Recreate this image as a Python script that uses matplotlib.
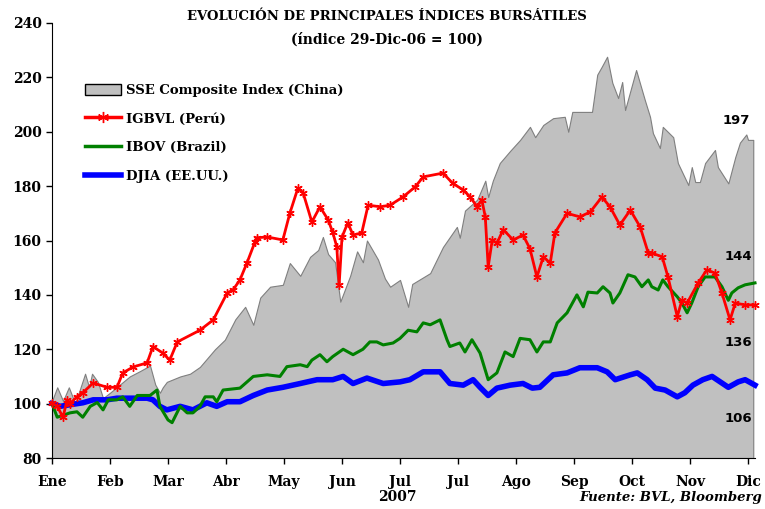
import matplotlib
matplotlib.use("Agg")
import matplotlib.pyplot as plt
from matplotlib.patches import Patch
from matplotlib.lines import Line2D

# ---------- data (indice 29-Dic-06 = 100), x in months since 1-Ene ----------
meses = ["Ene", "Feb", "Mar", "Abr", "May", "Jun", "Jul", "Jul", "Ago", "Sep", "Oct", "Nov", "Dic"]

sse_x = [0.00, 0.09, 0.19, 0.29, 0.40, 0.57, 0.64, 0.69, 0.79, 0.88, 1.00, 1.17, 1.34, 1.52, 1.69,
         1.78, 1.86, 1.91, 1.98, 2.21, 2.38, 2.55, 2.81, 2.98, 3.16, 3.33, 3.47, 3.59, 3.76, 3.98,
         4.10, 4.28, 4.45, 4.59, 4.67, 4.76, 4.88, 4.97, 5.14, 5.26, 5.36, 5.43, 5.62, 5.74, 5.83,
         6.00, 6.14, 6.21, 6.52, 6.74, 6.98, 7.03, 7.12, 7.33, 7.47, 7.52, 7.60, 7.72, 7.90, 8.07,
         8.24, 8.33, 8.47, 8.64, 8.84, 8.90, 8.97, 9.31, 9.40, 9.48, 9.57, 9.66, 9.76, 9.83, 9.88,
         10.07, 10.22, 10.31, 10.36, 10.48, 10.53, 10.71, 10.79, 10.97, 11.03, 11.09, 11.17, 11.26,
         11.43, 11.48, 11.66, 11.78, 11.86, 11.97, 12.00, 12.09]
sse = [101, 106, 101, 106, 100, 111, 106, 111, 108, 102, 104, 107, 110, 112, 114,
       107, 104, 106, 108, 110, 111, 113.5, 120, 123.5, 131, 135.6, 129, 139, 143, 143.7,
       151.7, 147, 154, 156.5, 161.3, 155, 152, 137.5, 147, 156, 152, 160, 153, 146, 143,
       145.5, 135.6, 144, 148, 157.6, 165, 161, 171, 175, 182, 176, 182, 188.5, 193, 197,
       201.8, 198, 202.5, 205, 205.5, 200, 207.3, 207.3, 221, 224, 227.6, 218, 212.4, 218.3, 208,
       222.7, 211.7, 205.5, 199.5, 194, 201.8, 198, 188.5, 180.4, 187, 181.5, 181.5, 188.5,
       193.3, 187, 181, 190.7, 196, 199, 197, 197]

igbvl_x = [0.00, 0.09, 0.19, 0.26, 0.31, 0.43, 0.53, 0.71, 0.95, 1.12, 1.22, 1.40, 1.64, 1.74, 1.91,
           2.03, 2.16, 2.55, 2.78, 3.02, 3.12, 3.24, 3.36, 3.50, 3.53, 3.71, 3.98, 4.10, 4.24, 4.33,
           4.48, 4.62, 4.76, 4.84, 4.91, 4.95, 5.00, 5.10, 5.19, 5.34, 5.45, 5.66, 5.83, 6.05, 6.26,
           6.40, 6.74, 6.91, 7.09, 7.21, 7.33, 7.41, 7.47, 7.52, 7.59, 7.67, 7.78, 7.95, 8.12, 8.24,
           8.36, 8.47, 8.59, 8.67, 8.88, 9.10, 9.28, 9.48, 9.62, 9.79, 9.97, 10.14, 10.28, 10.34,
           10.52, 10.62, 10.78, 10.86, 10.95, 11.14, 11.29, 11.43, 11.55, 11.69, 11.78, 11.95, 12.12]
igbvl = [100.3, 99, 95, 101.4, 100, 102.5, 104, 107.6, 106, 106, 111.3, 113.5, 115, 121, 118.6,
         116, 122.7, 127, 130.8, 140.7, 141.8, 145.5, 151.7, 159.5, 161, 161.3, 160.2, 170, 179.3, 177.5,
         166.8, 172.4, 167.6, 163, 157.7, 143.5, 161.3, 166.5, 162, 162.8, 173, 172.4, 173, 176, 179.7,
         183.4, 184.8, 181, 178.6, 176, 172.4, 175, 168.7, 150.3, 160.2, 159, 164, 160.2, 162, 157,
         146.6, 154, 151.7, 162.8, 170, 168.7, 170.5, 176, 172.4, 165.7, 171.2, 165, 155.4, 155.4,
         154, 146.6, 132, 138, 137, 144.4, 149.2, 148, 140.7, 130.8, 137, 136.3, 136.3]

ibov_x = [0.00, 0.09, 0.31, 0.43, 0.53, 0.66, 0.78, 0.88, 0.97, 1.12, 1.22, 1.34, 1.47, 1.69, 1.81,
          1.86, 2.00, 2.07, 2.21, 2.33, 2.43, 2.55, 2.64, 2.78, 2.84, 2.95, 3.24, 3.47, 3.71, 3.93,
          4.05, 4.28, 4.40, 4.48, 4.62, 4.74, 4.84, 5.02, 5.19, 5.36, 5.48, 5.60, 5.71, 5.88, 6.00,
          6.14, 6.29, 6.40, 6.52, 6.69, 6.81, 6.86, 7.03, 7.12, 7.24, 7.38, 7.52, 7.67, 7.81, 7.95,
          8.07, 8.24, 8.36, 8.47, 8.59, 8.71, 8.88, 9.05, 9.16, 9.24, 9.40, 9.50, 9.62, 9.67, 9.79,
          9.93, 10.05, 10.17, 10.28, 10.34, 10.45, 10.53, 10.62, 10.78, 10.86, 10.95, 11.03, 11.14,
          11.26, 11.43, 11.55, 11.66, 11.72, 11.83, 11.95, 12.12]
ibov = [100, 95, 96.6, 97, 95, 99, 100.4, 97.7, 101.4, 101.4, 102.5, 99, 103, 103, 105,
        99, 94, 93, 99, 96.6, 96.6, 99, 102.5, 102.5, 100.7, 105, 105.7, 110, 110.6, 110,
        113.6, 114.3, 113.6, 116, 118, 115.4, 117.3, 120, 118, 120, 122.7, 122.7, 121.6, 122.3, 124,
        127, 126.4, 129.7, 129, 130.8, 123.5, 121, 122.3, 119, 123.5, 118.6, 108.8, 111.3, 119, 117.3,
        124, 123.5, 119, 122.7, 122.7, 129.7, 133.4, 140, 135.6, 141, 140.7, 143, 140.7, 137, 140.7,
        147.4, 146.6, 143, 145.5, 143, 141.8, 145.5, 143, 139.3, 137, 133.4, 137, 143,
        146.6, 146.6, 143, 138, 140.7, 142.6, 143.7, 144.4]

djia_x = [0.00, 0.14, 0.31, 0.53, 0.71, 0.95, 1.12, 1.40, 1.64, 1.74, 1.86, 1.98, 2.21, 2.43, 2.67,
          2.84, 3.02, 3.24, 3.47, 3.71, 3.98, 4.28, 4.57, 4.84, 5.02, 5.19, 5.43, 5.71, 6.00, 6.17,
          6.40, 6.69, 6.86, 7.09, 7.26, 7.38, 7.52, 7.67, 7.90, 8.12, 8.28, 8.41, 8.64, 8.88, 9.10,
          9.40, 9.57, 9.71, 9.97, 10.09, 10.26, 10.40, 10.57, 10.78, 10.91, 11.05, 11.22, 11.38,
          11.52, 11.66, 11.83, 11.95, 12.12]
djia = [100, 99, 99.6, 100.3, 101.4, 101.4, 102, 102, 102, 101.4, 99, 97.7, 99, 97.7, 100.3,
        99, 100.7, 100.7, 103, 105, 106, 107.4, 108.8, 108.8, 110, 107.4, 109.4, 107.4, 108, 108.8,
        111.7, 111.7, 107.4, 106.8, 108.8, 106, 103, 105.7, 106.8, 107.4, 105.7, 106, 110.6, 111.3, 113.2,
        113.2, 111.7, 108.8, 110.6, 111.3, 108.8, 105.7, 105, 102.5, 104, 106.8, 108.8, 110,
        108, 106, 108, 108.8, 106.8]

# ---------- plot ----------
plt.rcParams["font.family"] = "DejaVu Serif"
plt.rcParams["font.weight"] = "bold"

fig = plt.figure(figsize=(7.65, 5.09), dpi=100)
ax = fig.add_axes([52 / 765, 51 / 509, 703 / 765, 435 / 509])

ax.fill_between(sse_x, 80, sse, facecolor="#c0c0c0", edgecolor="#7f7f7f", linewidth=0.8, zorder=1)
ax.plot(igbvl_x, igbvl, color="#ff0000", linewidth=2, marker=(6, 2, 0), markersize=6,
        markeredgewidth=1, zorder=4, clip_on=False)
ax.plot(ibov_x, ibov, color="#008000", linewidth=2.2, zorder=3, clip_on=False)
ax.plot(djia_x, djia, color="#0000ff", linewidth=4, zorder=2, clip_on=False)

ax.set_xlim(0, 12.12)
ax.set_ylim(80, 240)
ax.set_yticks(range(80, 241, 20))
ax.set_xticks(range(len(meses)))
ax.set_xticklabels(meses)
ax.tick_params(axis="both", labelsize=10, direction="out", length=4, width=1)
ax.tick_params(axis="x", pad=8)
for s in ["top", "right"]:
    ax.spines[s].set_visible(False)

# end labels
ax.annotate("197", (sse_x[-1], sse[-1]), xytext=(-12, 14), textcoords="offset points",
            ha="center", va="center", fontsize=9.5, family="DejaVu Sans", fontweight="bold")
ax.annotate("144", (ibov_x[-1], ibov[-1]), xytext=(-12, 19), textcoords="offset points",
            ha="center", va="center", fontsize=9.5, family="DejaVu Sans", fontweight="bold")
ax.annotate("136", (igbvl_x[-1], igbvl[-1]), xytext=(-12, -27), textcoords="offset points",
            ha="center", va="center", fontsize=9.5, family="DejaVu Sans", fontweight="bold")
ax.annotate("106", (djia_x[-1], djia[-1]), xytext=(-12, -24), textcoords="offset points",
            ha="center", va="center", fontsize=9.5, family="DejaVu Sans", fontweight="bold")

# legend
handles = [Patch(facecolor="#c0c0c0", edgecolor="black", linewidth=1),
           Line2D([], [], color="#ff0000", linewidth=2.5, marker=(6, 2, 0), markersize=8),
           Line2D([], [], color="#008000", linewidth=2.5),
           Line2D([], [], color="#0000ff", linewidth=4)]
labels = ["SSE Composite Index (China)", "IGBVL (Perú)", "IBOV (Brazil)", "DJIA (EE.UU.)"]
ax.legend(handles, labels, loc="upper left", bbox_to_anchor=(0.03, 0.888), frameon=False,
          fontsize=9.5, handlelength=2.7, handleheight=0.9, labelspacing=1.2, handletextpad=0.4)

fig.text(387 / 765, 1 - 17 / 509, "EVOLUCIÓN DE PRINCIPALES ÍNDICES BURSÁTILES",
         ha="center", va="center", fontsize=9.5)
fig.text(387 / 765, 1 - 40 / 509, "(índice 29-Dic-06 = 100)",
         ha="center", va="center", fontsize=10)
fig.text(397 / 765, 1 - 497 / 509, "2007", ha="center", va="center", fontsize=10)
fig.text(762 / 765, 1 - 497 / 509, "Fuente: BVL, Bloomberg", ha="right", va="center",
         fontsize=9.5, style="italic")

fig.savefig("out.png", dpi=100)
